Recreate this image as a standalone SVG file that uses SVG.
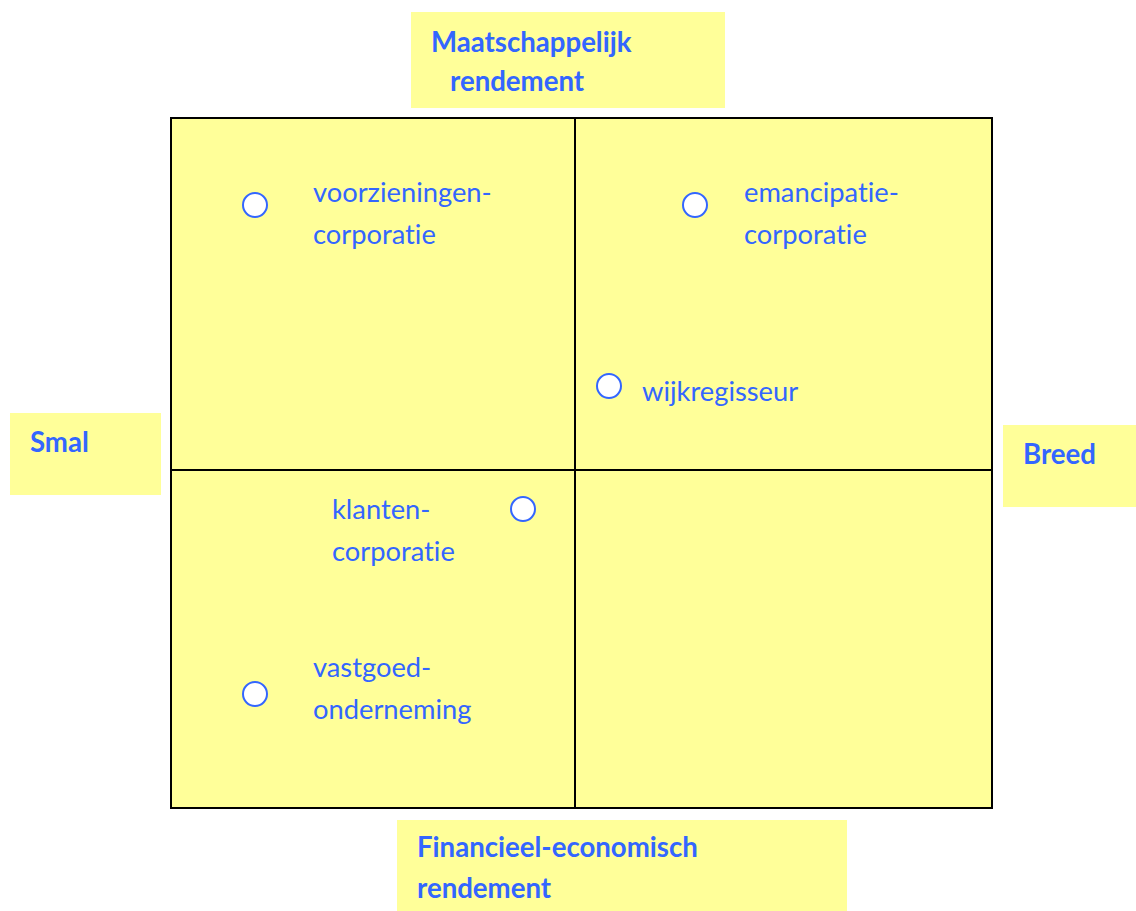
<svg xmlns="http://www.w3.org/2000/svg" width="1136" height="911" viewBox="0 0 1136 911">
<style>
.lbl{fill:#FFFF99}
.t{font-family:Lato,"Open Sans","Liberation Sans",sans-serif;font-size:27.3px;fill:#3366FF;font-variant-ligatures:none;font-feature-settings:"liga" 0,"dlig" 0}
.b{font-weight:bold;font-size:27.6px}
.dot{fill:#fff;stroke:#3366FF;stroke-width:2}
.ln{stroke:#000;stroke-width:2;fill:none}
</style>
<rect width="1136" height="911" fill="#fff"/>
<g id="matrix">
<rect x="171" y="118" width="821" height="690" class="ln" style="fill:#FFFF99"/>
</g>
<g id="connectors">
<line class="ln" x1="575" y1="118" x2="575" y2="808"/>
<line class="ln" x1="171" y1="470" x2="992" y2="470"/>
</g>
<g id="top-label">
<rect class="lbl" x="411" y="12" width="314" height="96"/>
<text class="t b" x="431" y="52">Maatschappelijk</text>
<text class="t b" x="450" y="91">rendement</text>
</g>
<g id="left-label">
<rect class="lbl" x="10" y="413" width="151" height="82"/>
<text class="t b" x="30" y="452">Smal</text>
</g>
<g id="right-label">
<rect class="lbl" x="1003" y="425" width="133" height="82"/>
<text class="t b" x="1023" y="464">Breed</text>
</g>
<g id="bottom-label">
<rect class="lbl" x="397" y="820" width="450" height="91"/>
<text class="t b" x="417" y="857">Financieel-economisch</text>
<text class="t b" x="417" y="898">rendement</text>
</g>
<g id="voorzieningen">
<circle class="dot" cx="255" cy="205" r="12"/>
<text class="t" x="313" y="202">voorzieningen-</text>
<text class="t" x="313" y="244">corporatie</text>
</g>
<g id="emancipatie">
<circle class="dot" cx="695" cy="205" r="12"/>
<text class="t" x="744" y="202">emancipatie-</text>
<text class="t" x="744" y="244">corporatie</text>
</g>
<g id="wijkregisseur">
<circle class="dot" cx="609" cy="386" r="12"/>
<text class="t" x="642" y="401">wijkregisseur</text>
</g>
<g id="klanten">
<circle class="dot" cx="523" cy="509" r="12"/>
<text class="t" x="332" y="519">klanten-</text>
<text class="t" x="332" y="561">corporatie</text>
</g>
<g id="vastgoed">
<circle class="dot" cx="255" cy="694" r="12"/>
<text class="t" x="313" y="677">vastgoed-</text>
<text class="t" x="313" y="719">onderneming</text>
</g>
</svg>
